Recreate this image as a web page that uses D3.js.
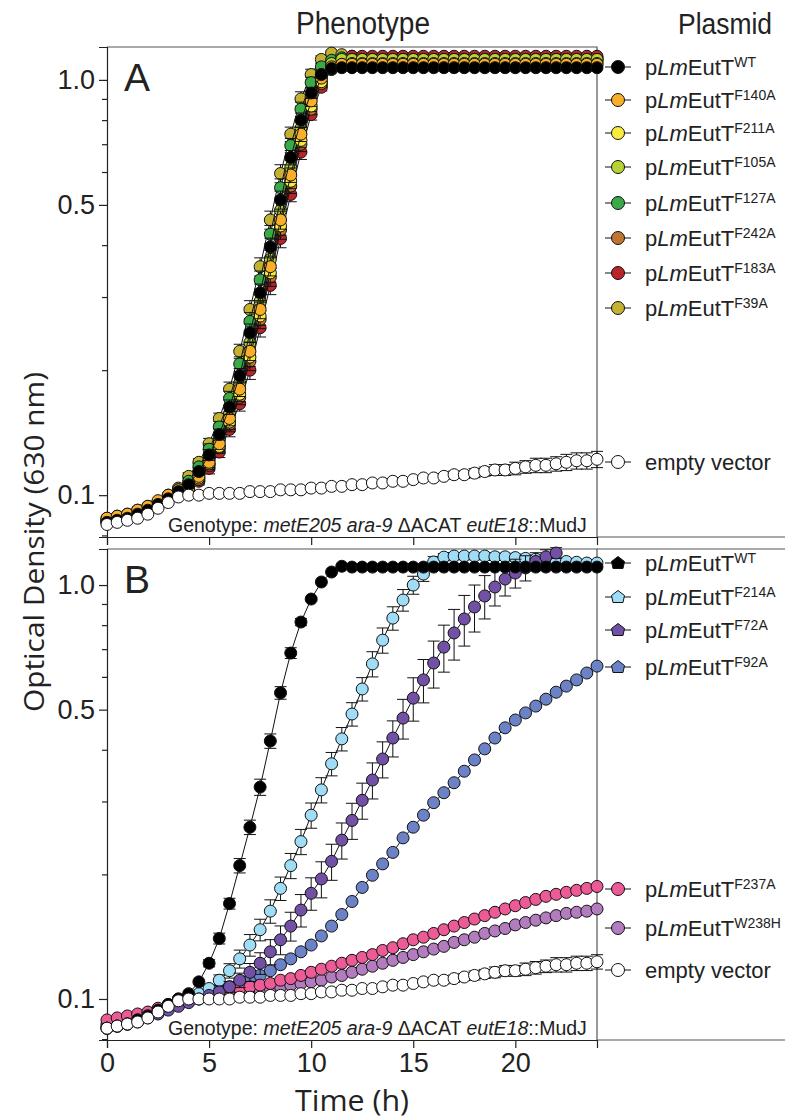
<!DOCTYPE html>
<html>
<head>
<meta charset="utf-8">
<script src="https://cdn.jsdelivr.net/npm/d3@7"></script>
<style>
  body { margin: 0; background: #fff; }
  svg { display: block; }
</style>
</head>
<body>
<div id="wrapper"></div>
<script>
// time points (h)
const times = [0, 0.5, 1, 1.5, 2, 2.5, 3, 3.5, 4, 4.5, 5, 5.5, 6, 6.5, 7, 7.5, 8, 8.5, 9, 9.5, 10, 10.5, 11, 11.5,
    12, 12.5, 13, 13.5, 14, 14.5, 15, 15.5, 16, 16.5, 17, 17.5, 18, 18.5, 19, 19.5, 20, 20.5, 21, 21.5, 22, 22.5, 23, 23.5, 24];

const xTicks = [0, 5, 10, 15, 20];
const yTicks = [0.1, 0.5, 1.0];
const yMinorTicks = [0.08, 0.09, 0.2, 0.3, 0.4, 0.6, 0.7, 0.8, 0.9];

// ---- panel A (OD630) ----
const wtA = [0.086, 0.087, 0.088, 0.090, 0.092, 0.095, 0.098, 0.102,
    0.106, 0.114, 0.125, 0.140, 0.163, 0.194, 0.246, 0.307, 0.396, 0.514, 0.650, 0.800, 0.930, 1.030, 1.065, 1.070,
    1.07, 1.07, 1.07, 1.07, 1.07, 1.07, 1.07, 1.07, 1.07, 1.07, 1.07, 1.07, 1.07, 1.07, 1.07, 1.07, 1.07, 1.07, 1.07, 1.07, 1.07, 1.07, 1.07, 1.07, 1.07];
const f140A = [0.088, 0.089, 0.090, 0.092, 0.094, 0.097, 0.100, 0.103,
    0.104, 0.111, 0.120, 0.133, 0.153, 0.180, 0.222, 0.280, 0.355, 0.460, 0.590, 0.740, 0.890, 1.010, 1.075, 1.090,
    1.09, 1.09, 1.09, 1.09, 1.09, 1.09, 1.09, 1.09, 1.09, 1.09, 1.09, 1.09, 1.09, 1.09, 1.09, 1.09, 1.09, 1.09, 1.09, 1.09, 1.09, 1.09, 1.09, 1.09, 1.09];
const f211A = [0.088, 0.089, 0.090, 0.092, 0.094, 0.096, 0.099, 0.102,
    0.103, 0.110, 0.119, 0.131, 0.150, 0.175, 0.215, 0.270, 0.343, 0.445, 0.570, 0.715, 0.865, 0.990, 1.065, 1.090,
    1.095, 1.095, 1.095, 1.095, 1.095, 1.095, 1.095, 1.095, 1.095, 1.095, 1.095, 1.095, 1.095, 1.095, 1.095, 1.095, 1.095, 1.095, 1.095, 1.095, 1.095, 1.095, 1.095, 1.095, 1.095];
const f105A = [0.087, 0.088, 0.089, 0.091, 0.093, 0.096, 0.099, 0.102,
    0.105, 0.112, 0.122, 0.136, 0.157, 0.186, 0.233, 0.293, 0.370, 0.485, 0.615, 0.765, 0.910, 1.030, 1.095, 1.120,
    1.12, 1.12, 1.12, 1.12, 1.12, 1.12, 1.12, 1.12, 1.12, 1.12, 1.12, 1.12, 1.12, 1.12, 1.12, 1.12, 1.12, 1.12, 1.12, 1.12, 1.12, 1.12, 1.12, 1.12, 1.12];
const f127A = [0.086, 0.087, 0.088, 0.090, 0.092, 0.095, 0.099, 0.103,
    0.108, 0.117, 0.129, 0.146, 0.171, 0.207, 0.262, 0.330, 0.425, 0.550, 0.695, 0.850, 0.985, 1.075, 1.115, 1.130,
    1.12, 1.12, 1.12, 1.12, 1.12, 1.12, 1.12, 1.12, 1.12, 1.12, 1.12, 1.12, 1.12, 1.12, 1.12, 1.12, 1.12, 1.12, 1.12, 1.12, 1.12, 1.12, 1.12, 1.12, 1.12];
const f242A = [0.087, 0.088, 0.089, 0.091, 0.093, 0.096, 0.099, 0.102,
    0.103, 0.109, 0.118, 0.130, 0.148, 0.172, 0.210, 0.265, 0.335, 0.435, 0.555, 0.700, 0.850, 0.980, 1.060, 1.100,
    1.11, 1.11, 1.11, 1.11, 1.11, 1.11, 1.11, 1.11, 1.11, 1.11, 1.11, 1.11, 1.11, 1.11, 1.11, 1.11, 1.11, 1.11, 1.11, 1.11, 1.11, 1.11, 1.11, 1.11, 1.11];
const f183A = [0.086, 0.087, 0.088, 0.090, 0.092, 0.095, 0.098, 0.101,
    0.102, 0.108, 0.116, 0.127, 0.144, 0.166, 0.200, 0.253, 0.320, 0.415, 0.530, 0.670, 0.825, 0.960, 1.060, 1.120,
    1.14, 1.14, 1.14, 1.14, 1.14, 1.14, 1.14, 1.14, 1.14, 1.14, 1.14, 1.14, 1.14, 1.14, 1.14, 1.14, 1.14, 1.14, 1.14, 1.14, 1.14, 1.14, 1.14, 1.14, 1.14];
const f39A = [0.087, 0.088, 0.089, 0.091, 0.093, 0.096, 0.100, 0.104,
    0.111, 0.120, 0.133, 0.153, 0.180, 0.222, 0.280, 0.355, 0.460, 0.595, 0.740, 0.900, 1.030, 1.120, 1.160, 1.150,
    1.14, 1.13, 1.13, 1.13, 1.13, 1.13, 1.13, 1.13, 1.13, 1.13, 1.13, 1.13, 1.13, 1.13, 1.13, 1.13, 1.13, 1.13, 1.13, 1.13, 1.13, 1.13, 1.13, 1.13, 1.13];
const emptyA = [0.085, 0.086, 0.087, 0.088, 0.090, 0.093, 0.096, 0.099,
    0.100, 0.100, 0.101, 0.101, 0.101, 0.101, 0.102, 0.102, 0.102, 0.103, 0.103, 0.103, 0.104, 0.104, 0.105, 0.105,
    0.106, 0.106, 0.107, 0.107, 0.108, 0.108, 0.109, 0.110, 0.110, 0.111, 0.112, 0.112, 0.113, 0.114, 0.115, 0.115, 0.116, 0.117, 0.118, 0.118, 0.119, 0.120, 0.121, 0.121, 0.122];
// relative error bars
const errGrowthA = [0, 0, 0, 0, 0, 0, 0, 0,
    0.02, 0.02, 0.03, 0.03, 0.04, 0.04, 0.05, 0.05, 0.05, 0.05, 0.04, 0.04, 0.03, 0.02, 0.01, 0.01,
    0, 0, 0, 0, 0, 0, 0, 0, 0, 0, 0, 0, 0, 0, 0, 0, 0, 0, 0, 0, 0, 0, 0, 0, 0];
const errEmptyA = [0, 0, 0, 0, 0, 0, 0, 0,
    0, 0, 0, 0, 0, 0, 0, 0, 0, 0, 0, 0, 0, 0, 0, 0,
    0.005, 0.005, 0.005, 0.005, 0.01, 0.01, 0.01, 0.01, 0.015, 0.015, 0.02, 0.02, 0.025, 0.025, 0.03, 0.03, 0.035, 0.035, 0.04, 0.04, 0.04, 0.045, 0.045, 0.045, 0.045];

// ---- panel B (OD630) ----
const wtB = [0.085, 0.086, 0.087, 0.089, 0.091, 0.094, 0.097, 0.100,
    0.103, 0.110, 0.122, 0.140, 0.170, 0.210, 0.260, 0.325, 0.420, 0.549, 0.685, 0.814, 0.925, 1.017, 1.075, 1.110,
    1.105, 1.105, 1.105, 1.105, 1.105, 1.105, 1.105, 1.105, 1.105, 1.105, 1.105, 1.105, 1.105, 1.105, 1.105, 1.105, 1.105, 1.105, 1.105, 1.105, 1.105, 1.105, 1.105, 1.105, 1.105];
const f214A = [0.085, 0.086, 0.087, 0.089, 0.091, 0.093, 0.096, 0.099,
    0.100, 0.103, 0.106, 0.111, 0.117, 0.125, 0.135, 0.147, 0.163, 0.185, 0.210, 0.240, 0.278, 0.320, 0.370, 0.425,
    0.488, 0.561, 0.645, 0.736, 0.832, 0.920, 1.000, 1.063, 1.137, 1.168, 1.175, 1.175, 1.175, 1.175, 1.170, 1.170, 1.165, 1.160, 1.155, 1.150, 1.145, 1.140, 1.135, 1.130, 1.130];
const f72A = [0.085, 0.086, 0.087, 0.088, 0.090, 0.092, 0.094, 0.096,
    0.098, 0.100, 0.102, 0.104, 0.107, 0.111, 0.116, 0.122, 0.130, 0.139, 0.150, 0.164, 0.180, 0.195, 0.215, 0.242,
    0.270, 0.302, 0.338, 0.380, 0.427, 0.477, 0.533, 0.590, 0.648, 0.708, 0.766, 0.828, 0.885, 0.941, 0.989, 1.034, 1.069, 1.100, 1.140, 1.170, 1.195, null, null, null, null];
const f92A = [0.086, 0.087, 0.088, 0.089, 0.091, 0.093, 0.096, 0.098,
    0.100, 0.102, 0.104, 0.105, 0.107, 0.109, 0.111, 0.114, 0.117, 0.121, 0.125, 0.130, 0.135, 0.142, 0.150, 0.160,
    0.172, 0.186, 0.199, 0.212, 0.226, 0.245, 0.260, 0.278, 0.298, 0.315, 0.333, 0.355, 0.378, 0.402, 0.427, 0.452, 0.472, 0.491, 0.510, 0.530, 0.551, 0.570, 0.590, 0.613, 0.637];
const f237A = [0.089, 0.090, 0.091, 0.092, 0.093, 0.095, 0.097, 0.100,
    0.101, 0.102, 0.103, 0.104, 0.105, 0.106, 0.107, 0.108, 0.109, 0.111, 0.112, 0.114, 0.116, 0.118, 0.120, 0.122,
    0.124, 0.126, 0.128, 0.131, 0.133, 0.136, 0.139, 0.141, 0.144, 0.147, 0.150, 0.153, 0.156, 0.159, 0.162, 0.165, 0.168, 0.171, 0.174, 0.177, 0.179, 0.181, 0.183, 0.185, 0.187];
const w238H = [0.087, 0.088, 0.089, 0.090, 0.091, 0.093, 0.095, 0.097,
    0.099, 0.100, 0.101, 0.102, 0.102, 0.103, 0.104, 0.105, 0.106, 0.107, 0.108, 0.109, 0.110, 0.111, 0.113, 0.114,
    0.116, 0.118, 0.120, 0.122, 0.124, 0.126, 0.128, 0.130, 0.132, 0.134, 0.137, 0.139, 0.141, 0.144, 0.146, 0.148, 0.151, 0.153, 0.155, 0.157, 0.159, 0.161, 0.162, 0.163, 0.165];
const emptyB = [0.085, 0.086, 0.087, 0.088, 0.090, 0.093, 0.096, 0.099,
    0.100, 0.100, 0.100, 0.100, 0.100, 0.101, 0.101, 0.101, 0.102, 0.102, 0.102, 0.103, 0.103, 0.104, 0.104, 0.105,
    0.105, 0.106, 0.106, 0.107, 0.108, 0.108, 0.109, 0.110, 0.111, 0.111, 0.112, 0.113, 0.114, 0.115, 0.116, 0.117, 0.117, 0.118, 0.119, 0.120, 0.121, 0.121, 0.122, 0.122, 0.123];
const errWTB = [0, 0, 0, 0, 0, 0, 0, 0,
    0, 0, 0.02, 0.03, 0.03, 0.04, 0.04, 0.045, 0.04, 0.035, 0.03, 0.02, 0.01, 0, 0, 0,
    0, 0, 0, 0, 0, 0, 0, 0, 0, 0, 0, 0, 0, 0, 0, 0, 0, 0, 0, 0, 0, 0, 0, 0, 0];
const errF214A = [0, 0, 0, 0, 0, 0, 0, 0,
    0, 0, 0.02, 0.03, 0.04, 0.05, 0.06, 0.06, 0.065, 0.065, 0.07, 0.07, 0.07, 0.07, 0.065, 0.065,
    0.065, 0.065, 0.07, 0.07, 0.065, 0.06, 0.05, 0.04, 0.03, 0.02, 0.02, 0.02, 0.02, 0.02, 0.02, 0.02, 0.02, 0.02, 0.02, 0.015, 0.015, 0.01, 0.01, 0.01, 0.01];
const errF72A = [0, 0, 0, 0, 0, 0, 0, 0,
    0, 0, 0, 0.02, 0.03, 0.04, 0.05, 0.06, 0.07, 0.08, 0.08, 0.09, 0.09, 0.1, 0.1, 0.1,
    0.1, 0.1, 0.1, 0.1, 0.1, 0.11, 0.12, 0.12, 0.13, 0.13, 0.14, 0.14, 0.13, 0.12, 0.1, 0.09, 0.08, 0.07, 0.05, 0.04, 0.03, 0, 0, 0, 0];
const errEmptyB = [0, 0, 0, 0, 0, 0, 0, 0,
    0, 0, 0, 0, 0, 0, 0, 0, 0, 0, 0, 0, 0, 0, 0, 0,
    0.005, 0.005, 0.005, 0.005, 0.01, 0.01, 0.01, 0.015, 0.015, 0.02, 0.02, 0.02, 0.025, 0.025, 0.03, 0.03, 0.03, 0.035, 0.035, 0.035, 0.04, 0.04, 0.04, 0.04, 0.04];

// legend labels (superscripts) in legend order
const legendA = ["WT", "F140A", "F211A", "F105A", "F127A", "F242A", "F183A", "F39A", "empty vector"];
const legendB = ["WT", "F214A", "F72A", "F92A", "F237A", "W238H", "empty vector"];

const narrow = "'Liberation Sans Narrow', 'Arial Narrow', 'Liberation Sans', sans-serif";
const plain = "'Liberation Sans', Arial, sans-serif";

function drawChart() {
    let dimensions = {
        width: 785,
        height: 1120,
        plotLeft: 107,
        plotRight: 597,
        legendRight: 785,
    }

    const svg = d3.select("#wrapper")
        .append("svg")
        .attr("width", dimensions.width)
        .attr("height", dimensions.height)
        .style("font-family", plain);

    const xScale = d3.scaleLinear()
        .domain([0, 24])
        .range([dimensions.plotLeft, dimensions.plotRight]);

    const panels = [
        {
            letter: "A", top: 47, bottom: 537, domain: [0.0793, 1.2], xLabels: false,
            // draw order (back to front)
            series: [
                { key: "F39A", values: f39A, err: errGrowthA, color: "#c4b132", legendY: 308 },
                { key: "F183A", values: f183A, err: errGrowthA, color: "#b82428", legendY: 273 },
                { key: "F242A", values: f242A, err: errGrowthA, color: "#c07430", legendY: 238 },
                { key: "F127A", values: f127A, err: errGrowthA, color: "#3aa948", legendY: 203 },
                { key: "F105A", values: f105A, err: errGrowthA, color: "#b6d335", legendY: 167 },
                { key: "F211A", values: f211A, err: errGrowthA, color: "#f9ec3e", legendY: 133 },
                { key: "F140A", values: f140A, err: errGrowthA, color: "#f9af2a", legendY: 100 },
                { key: "WT", values: wtA, err: errGrowthA, color: "#000000", legendY: 67 },
                { key: "empty vector", values: emptyA, err: errEmptyA, color: "#ffffff", legendY: 462 },
            ],
            legend: legendA,
            extraLines: [537],
        },
        {
            letter: "B", top: 549, bottom: 1040, domain: [0.0796, 1.222], xLabels: true,
            series: [
                { key: "F92A", values: f92A, err: null, color: "#6b83c6", legendY: 667, house: true },
                { key: "W238H", values: w238H, err: null, color: "#b27cbf", legendY: 928 },
                { key: "F237A", values: f237A, err: null, color: "#ec5b95", legendY: 889 },
                { key: "F214A", values: f214A, err: errF214A, color: "#9fdcf6", legendY: 597, house: true },
                { key: "F72A", values: f72A, err: errF72A, color: "#7150a6", legendY: 630, house: true },
                { key: "WT", values: wtB, err: errWTB, color: "#000000", legendY: 563, house: true },
                { key: "empty vector", values: emptyB, err: errEmptyB, color: "#ffffff", legendY: 970 },
            ],
            legend: legendB,
            extraLines: [549, 1040],
        },
    ];

    panels.forEach(p => drawPanel(svg, p, xScale, dimensions));

    // titles
    svg.append("text")
        .attr("x", 363).attr("y", 34)
        .attr("text-anchor", "middle")
        .style("font-family", narrow).style("font-size", "31px").attr("fill", "#222")
        .attr("textLength", 134).attr("lengthAdjust", "spacingAndGlyphs")
        .text("Phenotype");
    svg.append("text")
        .attr("x", 725).attr("y", 34)
        .attr("text-anchor", "middle")
        .style("font-family", narrow).style("font-size", "30px").attr("fill", "#222")
        .attr("textLength", 94).attr("lengthAdjust", "spacingAndGlyphs")
        .text("Plasmid");

    svg.append("text")
        .attr("transform", "translate(44,542) rotate(-90)")
        .attr("text-anchor", "middle")
        .style("font-family", "'Open Sans', sans-serif").style("font-size", "27px").attr("fill", "#222")
        .attr("textLength", 340).attr("lengthAdjust", "spacingAndGlyphs")
        .text("Optical Density (630 nm)");

    svg.append("text")
        .attr("x", 352).attr("y", 1111)
        .attr("text-anchor", "middle")
        .style("font-family", "'Open Sans', sans-serif").style("font-size", "30px").attr("fill", "#222")
        .attr("textLength", 114).attr("lengthAdjust", "spacingAndGlyphs")
        .text("Time (h)");
}

function drawPanel(svg, p, xScale, dimensions) {
    const yScale = d3.scaleLog()
        .domain(p.domain)
        .range([p.bottom, p.top]);

    const g = svg.append("g");

    // frame (top + right)
    g.append("path")
        .attr("d", `M${dimensions.plotLeft},${p.top}H${dimensions.plotRight}V${p.bottom}`)
        .attr("fill", "none").attr("stroke", "#555").attr("stroke-width", 1.2);
    p.extraLines.forEach(y => {
        g.append("line")
            .attr("x1", dimensions.plotRight).attr("x2", dimensions.legendRight)
            .attr("y1", y).attr("y2", y)
            .attr("stroke", "#555").attr("stroke-width", 1.2);
    });

    // y axis
    g.append("g")
        .attr("transform", `translate(${dimensions.plotLeft},0)`)
        .call(d3.axisLeft(yScale).tickValues(yTicks).tickFormat(d3.format(".1f")).tickSize(8).tickPadding(4));
    g.append("g")
        .attr("transform", `translate(${dimensions.plotLeft},0)`)
        .call(d3.axisLeft(yScale).tickValues(yMinorTicks).tickFormat("").tickSize(5))
        .call(a => a.select(".domain").remove());

    // x axis
    g.append("g")
        .attr("transform", `translate(0,${p.bottom})`)
        .call(d3.axisBottom(xScale).tickValues(xTicks).tickSize(8).tickPadding(5)
            .tickFormat(p.xLabels ? d3.format("d") : ""));

    g.selectAll(".tick text")
        .style("font-family", narrow).style("font-size", "27px").attr("fill", "#222");
    g.selectAll(".domain, .tick line").attr("stroke", "#222").attr("stroke-width", 1.2);

    // panel letter
    g.append("text")
        .attr("x", 124).attr("y", p.top + 44)
        .style("font-size", "39px").attr("fill", "#222")
        .text(p.letter);

    // genotype note
    const geno = g.append("text")
        .attr("x", 168).attr("y", p.bottom - 5)
        .style("font-size", "19.5px").attr("fill", "#222");
    geno.append("tspan").text("Genotype: ");
    geno.append("tspan").style("font-style", "italic").text("metE205 ara-9");
    geno.append("tspan").text(" \u0394ACAT ");
    geno.append("tspan").style("font-style", "italic").text("eutE18");
    geno.append("tspan").text("::MudJ");

    const line = d3.line()
        .defined(d => d.v != null)
        .x(d => xScale(d.t))
        .y(d => yScale(d.v));

    p.series.forEach(s => {
        const pts = times.map((t, i) => ({ t: t, v: s.values[i], e: s.err ? s.err[i] : 0 }));
        const sg = g.append("g");
        const withErr = pts.filter(d => d.v != null && d.e > 0);

        sg.selectAll(".eb")
            .data(withErr)
            .enter()
            .append("path")
            .attr("d", d => {
                const x = xScale(d.t);
                const y1 = yScale(d.v * (1 + d.e));
                const y2 = yScale(d.v * (1 - d.e));
                return `M${x},${y1}V${y2}M${x - 6},${y1}H${x + 6}M${x - 6},${y2}H${x + 6}`;
            })
            .attr("stroke", "#111").attr("stroke-width", 1).attr("fill", "none");

        sg.append("path")
            .datum(pts)
            .attr("d", line)
            .attr("fill", "none").attr("stroke", "#111").attr("stroke-width", 1);

        sg.selectAll("circle")
            .data(pts.filter(d => d.v != null))
            .enter()
            .append("circle")
            .attr("cx", d => xScale(d.t))
            .attr("cy", d => yScale(d.v))
            .attr("r", 6)
            .attr("fill", s.color)
            .attr("stroke", "#111").attr("stroke-width", 1);
    });

    // legend
    const lx = 618;
    p.series.forEach(s => {
        const lg = g.append("g").attr("transform", `translate(${lx},${s.legendY})`);
        lg.append("line").attr("x1", -13).attr("x2", 13).attr("stroke", "#111").attr("stroke-width", 1);
        if (s.house) {
            lg.append("path")
                .attr("d", "M0,-6.5L6.5,-1.5L5,5.5H-5L-6.5,-1.5Z")
                .attr("fill", s.color).attr("stroke", "#111").attr("stroke-width", 1);
        } else {
            lg.append("circle").attr("r", 6.5)
                .attr("fill", s.color).attr("stroke", "#111").attr("stroke-width", 1);
        }
        const t = lg.append("text")
            .attr("x", 27).attr("y", 7.5)
            .style("font-size", "22px").attr("fill", "#222");
        if (s.key === "empty vector") {
            t.text("empty vector");
        } else {
            t.append("tspan").text("p");
            t.append("tspan").style("font-style", "italic").text("Lm");
            t.append("tspan").text("EutT");
            t.append("tspan").attr("dy", -8).style("font-size", "14px").text(s.key);
        }
    });
}

drawChart();
</script>
</body>
</html>
